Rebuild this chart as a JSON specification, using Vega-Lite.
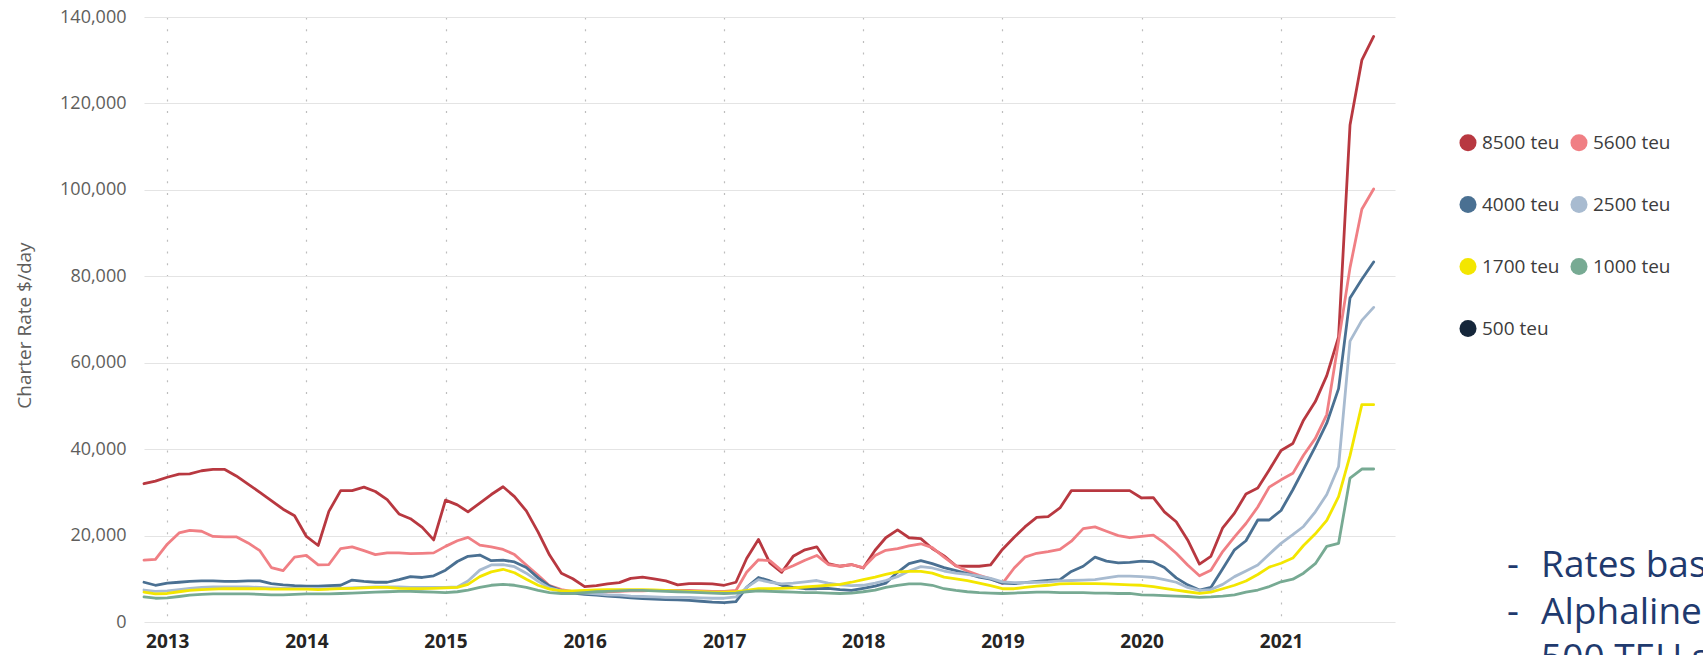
{
"$schema": "https://vega.github.io/schema/vega-lite/v6.json",
"width": 1251, "height": 605,
"autosize": {"type": "none"},
"padding": {"left": 144, "top": 17, "right": 308, "bottom": 33},
"background": "white",
"title": {"text": ["-\u2002\u200ARates based on 12-month time charters", "-\u2002\u200AAlphaliner charter rate data", "-\u2002\u200A500 TEU series discontinued"], "orient": "top", "anchor": "start", "frame": "group", "baseline": "top", "dx": 1363, "dy": 670, "font": "Open Sans", "fontSize": 37, "fontWeight": "normal", "color": "#1F3A6E", "lineHeight": 46.5, "offset": 0},
"data": {"values": [
{"t":"2012-11-01","s":"8500 teu","v":32000},{"t":"2012-12-01","s":"8500 teu","v":32600},
{"t":"2013-01-01","s":"8500 teu","v":33500},{"t":"2013-02-01","s":"8500 teu","v":34200},{"t":"2013-03-01","s":"8500 teu","v":34300},{"t":"2013-04-01","s":"8500 teu","v":35000},{"t":"2013-05-01","s":"8500 teu","v":35300},{"t":"2013-06-01","s":"8500 teu","v":35300},{"t":"2013-07-01","s":"8500 teu","v":33800},{"t":"2013-08-01","s":"8500 teu","v":31900},{"t":"2013-09-01","s":"8500 teu","v":30000},{"t":"2013-10-01","s":"8500 teu","v":28100},{"t":"2013-11-01","s":"8500 teu","v":26100},{"t":"2013-12-01","s":"8500 teu","v":24600},
{"t":"2014-01-01","s":"8500 teu","v":19800},{"t":"2014-02-01","s":"8500 teu","v":17700},{"t":"2014-03-01","s":"8500 teu","v":25600},{"t":"2014-04-01","s":"8500 teu","v":30400},{"t":"2014-05-01","s":"8500 teu","v":30400},{"t":"2014-06-01","s":"8500 teu","v":31200},{"t":"2014-07-01","s":"8500 teu","v":30200},{"t":"2014-08-01","s":"8500 teu","v":28300},{"t":"2014-09-01","s":"8500 teu","v":25000},{"t":"2014-10-01","s":"8500 teu","v":23900},{"t":"2014-11-01","s":"8500 teu","v":21900},{"t":"2014-12-01","s":"8500 teu","v":19000},
{"t":"2015-01-01","s":"8500 teu","v":28200},{"t":"2015-02-01","s":"8500 teu","v":27100},{"t":"2015-03-01","s":"8500 teu","v":25500},{"t":"2015-04-01","s":"8500 teu","v":27500},{"t":"2015-05-01","s":"8500 teu","v":29500},{"t":"2015-06-01","s":"8500 teu","v":31300},{"t":"2015-07-01","s":"8500 teu","v":29000},{"t":"2015-08-01","s":"8500 teu","v":25700},{"t":"2015-09-01","s":"8500 teu","v":20800},{"t":"2015-10-01","s":"8500 teu","v":15500},{"t":"2015-11-01","s":"8500 teu","v":11300},{"t":"2015-12-01","s":"8500 teu","v":10000},
{"t":"2016-01-01","s":"8500 teu","v":8200},{"t":"2016-02-01","s":"8500 teu","v":8400},{"t":"2016-03-01","s":"8500 teu","v":8800},{"t":"2016-04-01","s":"8500 teu","v":9100},{"t":"2016-05-01","s":"8500 teu","v":10100},{"t":"2016-06-01","s":"8500 teu","v":10400},{"t":"2016-07-01","s":"8500 teu","v":10000},{"t":"2016-08-01","s":"8500 teu","v":9500},{"t":"2016-09-01","s":"8500 teu","v":8600},{"t":"2016-10-01","s":"8500 teu","v":8900},{"t":"2016-11-01","s":"8500 teu","v":8900},{"t":"2016-12-01","s":"8500 teu","v":8800},
{"t":"2017-01-01","s":"8500 teu","v":8500},{"t":"2017-02-01","s":"8500 teu","v":9200},{"t":"2017-03-01","s":"8500 teu","v":14700},{"t":"2017-04-01","s":"8500 teu","v":19100},{"t":"2017-05-01","s":"8500 teu","v":13700},{"t":"2017-06-01","s":"8500 teu","v":11500},{"t":"2017-07-01","s":"8500 teu","v":15200},{"t":"2017-08-01","s":"8500 teu","v":16700},{"t":"2017-09-01","s":"8500 teu","v":17400},{"t":"2017-10-01","s":"8500 teu","v":13500},{"t":"2017-11-01","s":"8500 teu","v":12900},{"t":"2017-12-01","s":"8500 teu","v":13300},
{"t":"2018-01-01","s":"8500 teu","v":12500},{"t":"2018-02-01","s":"8500 teu","v":16600},{"t":"2018-03-01","s":"8500 teu","v":19500},{"t":"2018-04-01","s":"8500 teu","v":21300},{"t":"2018-05-01","s":"8500 teu","v":19500},{"t":"2018-06-01","s":"8500 teu","v":19300},{"t":"2018-07-01","s":"8500 teu","v":17000},{"t":"2018-08-01","s":"8500 teu","v":15300},{"t":"2018-09-01","s":"8500 teu","v":13000},{"t":"2018-10-01","s":"8500 teu","v":12900},{"t":"2018-11-01","s":"8500 teu","v":12900},{"t":"2018-12-01","s":"8500 teu","v":13200},
{"t":"2019-01-01","s":"8500 teu","v":16800},{"t":"2019-02-01","s":"8500 teu","v":19600},{"t":"2019-03-01","s":"8500 teu","v":22000},{"t":"2019-04-01","s":"8500 teu","v":24200},{"t":"2019-05-01","s":"8500 teu","v":24400},{"t":"2019-06-01","s":"8500 teu","v":26400},{"t":"2019-07-01","s":"8500 teu","v":30400},{"t":"2019-08-01","s":"8500 teu","v":30400},{"t":"2019-09-01","s":"8500 teu","v":30400},{"t":"2019-10-01","s":"8500 teu","v":30400},{"t":"2019-11-01","s":"8500 teu","v":30400},{"t":"2019-12-01","s":"8500 teu","v":30400},
{"t":"2020-01-01","s":"8500 teu","v":28700},{"t":"2020-02-01","s":"8500 teu","v":28800},{"t":"2020-03-01","s":"8500 teu","v":25500},{"t":"2020-04-01","s":"8500 teu","v":23200},{"t":"2020-05-01","s":"8500 teu","v":19000},{"t":"2020-06-01","s":"8500 teu","v":13400},{"t":"2020-07-01","s":"8500 teu","v":15200},{"t":"2020-08-01","s":"8500 teu","v":21800},{"t":"2020-09-01","s":"8500 teu","v":25200},{"t":"2020-10-01","s":"8500 teu","v":29600},{"t":"2020-11-01","s":"8500 teu","v":31000},{"t":"2020-12-01","s":"8500 teu","v":35200},
{"t":"2021-01-01","s":"8500 teu","v":39700},{"t":"2021-02-01","s":"8500 teu","v":41300},{"t":"2021-03-01","s":"8500 teu","v":46700},{"t":"2021-04-01","s":"8500 teu","v":51000},{"t":"2021-05-01","s":"8500 teu","v":57000},{"t":"2021-06-01","s":"8500 teu","v":66000},{"t":"2021-07-01","s":"8500 teu","v":115000},{"t":"2021-08-01","s":"8500 teu","v":130000},{"t":"2021-09-01","s":"8500 teu","v":135500},

{"t":"2012-11-01","s":"5600 teu","v":14300},{"t":"2012-12-01","s":"5600 teu","v":14500},
{"t":"2013-01-01","s":"5600 teu","v":18000},{"t":"2013-02-01","s":"5600 teu","v":20600},{"t":"2013-03-01","s":"5600 teu","v":21200},{"t":"2013-04-01","s":"5600 teu","v":21000},{"t":"2013-05-01","s":"5600 teu","v":19800},{"t":"2013-06-01","s":"5600 teu","v":19700},{"t":"2013-07-01","s":"5600 teu","v":19700},{"t":"2013-08-01","s":"5600 teu","v":18300},{"t":"2013-09-01","s":"5600 teu","v":16500},{"t":"2013-10-01","s":"5600 teu","v":12600},{"t":"2013-11-01","s":"5600 teu","v":11900},{"t":"2013-12-01","s":"5600 teu","v":15000},
{"t":"2014-01-01","s":"5600 teu","v":15400},{"t":"2014-02-01","s":"5600 teu","v":13200},{"t":"2014-03-01","s":"5600 teu","v":13300},{"t":"2014-04-01","s":"5600 teu","v":17000},{"t":"2014-05-01","s":"5600 teu","v":17400},{"t":"2014-06-01","s":"5600 teu","v":16500},{"t":"2014-07-01","s":"5600 teu","v":15600},{"t":"2014-08-01","s":"5600 teu","v":16000},{"t":"2014-09-01","s":"5600 teu","v":16000},{"t":"2014-10-01","s":"5600 teu","v":15800},{"t":"2014-11-01","s":"5600 teu","v":15900},{"t":"2014-12-01","s":"5600 teu","v":16000},
{"t":"2015-01-01","s":"5600 teu","v":17500},{"t":"2015-02-01","s":"5600 teu","v":18800},{"t":"2015-03-01","s":"5600 teu","v":19600},{"t":"2015-04-01","s":"5600 teu","v":17800},{"t":"2015-05-01","s":"5600 teu","v":17400},{"t":"2015-06-01","s":"5600 teu","v":16800},{"t":"2015-07-01","s":"5600 teu","v":15600},{"t":"2015-08-01","s":"5600 teu","v":13200},{"t":"2015-09-01","s":"5600 teu","v":10800},{"t":"2015-10-01","s":"5600 teu","v":8400},{"t":"2015-11-01","s":"5600 teu","v":7500},{"t":"2015-12-01","s":"5600 teu","v":7000},
{"t":"2016-01-01","s":"5600 teu","v":6800},{"t":"2016-02-01","s":"5600 teu","v":6900},{"t":"2016-03-01","s":"5600 teu","v":7000},{"t":"2016-04-01","s":"5600 teu","v":7100},{"t":"2016-05-01","s":"5600 teu","v":7200},{"t":"2016-06-01","s":"5600 teu","v":7200},{"t":"2016-07-01","s":"5600 teu","v":7300},{"t":"2016-08-01","s":"5600 teu","v":7300},{"t":"2016-09-01","s":"5600 teu","v":7300},{"t":"2016-10-01","s":"5600 teu","v":7300},{"t":"2016-11-01","s":"5600 teu","v":7200},{"t":"2016-12-01","s":"5600 teu","v":7100},
{"t":"2017-01-01","s":"5600 teu","v":7100},{"t":"2017-02-01","s":"5600 teu","v":7300},{"t":"2017-03-01","s":"5600 teu","v":11500},{"t":"2017-04-01","s":"5600 teu","v":14400},{"t":"2017-05-01","s":"5600 teu","v":14200},{"t":"2017-06-01","s":"5600 teu","v":11900},{"t":"2017-07-01","s":"5600 teu","v":13000},{"t":"2017-08-01","s":"5600 teu","v":14300},{"t":"2017-09-01","s":"5600 teu","v":15400},{"t":"2017-10-01","s":"5600 teu","v":13300},{"t":"2017-11-01","s":"5600 teu","v":12900},{"t":"2017-12-01","s":"5600 teu","v":13300},
{"t":"2018-01-01","s":"5600 teu","v":12600},{"t":"2018-02-01","s":"5600 teu","v":15400},{"t":"2018-03-01","s":"5600 teu","v":16600},{"t":"2018-04-01","s":"5600 teu","v":17000},{"t":"2018-05-01","s":"5600 teu","v":17600},{"t":"2018-06-01","s":"5600 teu","v":18100},{"t":"2018-07-01","s":"5600 teu","v":17200},{"t":"2018-08-01","s":"5600 teu","v":15000},{"t":"2018-09-01","s":"5600 teu","v":13000},{"t":"2018-10-01","s":"5600 teu","v":11800},{"t":"2018-11-01","s":"5600 teu","v":10800},{"t":"2018-12-01","s":"5600 teu","v":10000},
{"t":"2019-01-01","s":"5600 teu","v":8900},{"t":"2019-02-01","s":"5600 teu","v":12500},{"t":"2019-03-01","s":"5600 teu","v":15000},{"t":"2019-04-01","s":"5600 teu","v":15900},{"t":"2019-05-01","s":"5600 teu","v":16300},{"t":"2019-06-01","s":"5600 teu","v":16800},{"t":"2019-07-01","s":"5600 teu","v":18700},{"t":"2019-08-01","s":"5600 teu","v":21600},{"t":"2019-09-01","s":"5600 teu","v":22000},{"t":"2019-10-01","s":"5600 teu","v":21000},{"t":"2019-11-01","s":"5600 teu","v":20000},{"t":"2019-12-01","s":"5600 teu","v":19500},
{"t":"2020-01-01","s":"5600 teu","v":19800},{"t":"2020-02-01","s":"5600 teu","v":20100},{"t":"2020-03-01","s":"5600 teu","v":18300},{"t":"2020-04-01","s":"5600 teu","v":15900},{"t":"2020-05-01","s":"5600 teu","v":13200},{"t":"2020-06-01","s":"5600 teu","v":10700},{"t":"2020-07-01","s":"5600 teu","v":12000},{"t":"2020-08-01","s":"5600 teu","v":16300},{"t":"2020-09-01","s":"5600 teu","v":19700},{"t":"2020-10-01","s":"5600 teu","v":22800},{"t":"2020-11-01","s":"5600 teu","v":26600},{"t":"2020-12-01","s":"5600 teu","v":31200},
{"t":"2021-01-01","s":"5600 teu","v":32900},{"t":"2021-02-01","s":"5600 teu","v":34400},{"t":"2021-03-01","s":"5600 teu","v":38600},{"t":"2021-04-01","s":"5600 teu","v":42500},{"t":"2021-05-01","s":"5600 teu","v":48000},{"t":"2021-06-01","s":"5600 teu","v":65000},{"t":"2021-07-01","s":"5600 teu","v":82000},{"t":"2021-08-01","s":"5600 teu","v":95500},{"t":"2021-09-01","s":"5600 teu","v":100200},

{"t":"2012-11-01","s":"4000 teu","v":9200},{"t":"2012-12-01","s":"4000 teu","v":8500},
{"t":"2013-01-01","s":"4000 teu","v":9000},{"t":"2013-02-01","s":"4000 teu","v":9200},{"t":"2013-03-01","s":"4000 teu","v":9400},{"t":"2013-04-01","s":"4000 teu","v":9500},{"t":"2013-05-01","s":"4000 teu","v":9500},{"t":"2013-06-01","s":"4000 teu","v":9400},{"t":"2013-07-01","s":"4000 teu","v":9400},{"t":"2013-08-01","s":"4000 teu","v":9500},{"t":"2013-09-01","s":"4000 teu","v":9500},{"t":"2013-10-01","s":"4000 teu","v":8900},{"t":"2013-11-01","s":"4000 teu","v":8600},{"t":"2013-12-01","s":"4000 teu","v":8400},
{"t":"2014-01-01","s":"4000 teu","v":8300},{"t":"2014-02-01","s":"4000 teu","v":8300},{"t":"2014-03-01","s":"4000 teu","v":8400},{"t":"2014-04-01","s":"4000 teu","v":8500},{"t":"2014-05-01","s":"4000 teu","v":9700},{"t":"2014-06-01","s":"4000 teu","v":9400},{"t":"2014-07-01","s":"4000 teu","v":9200},{"t":"2014-08-01","s":"4000 teu","v":9200},{"t":"2014-09-01","s":"4000 teu","v":9800},{"t":"2014-10-01","s":"4000 teu","v":10500},{"t":"2014-11-01","s":"4000 teu","v":10300},{"t":"2014-12-01","s":"4000 teu","v":10700},
{"t":"2015-01-01","s":"4000 teu","v":12000},{"t":"2015-02-01","s":"4000 teu","v":14000},{"t":"2015-03-01","s":"4000 teu","v":15200},{"t":"2015-04-01","s":"4000 teu","v":15500},{"t":"2015-05-01","s":"4000 teu","v":14200},{"t":"2015-06-01","s":"4000 teu","v":14300},{"t":"2015-07-01","s":"4000 teu","v":13900},{"t":"2015-08-01","s":"4000 teu","v":12600},{"t":"2015-09-01","s":"4000 teu","v":10200},{"t":"2015-10-01","s":"4000 teu","v":8300},{"t":"2015-11-01","s":"4000 teu","v":7200},{"t":"2015-12-01","s":"4000 teu","v":6700},
{"t":"2016-01-01","s":"4000 teu","v":6400},{"t":"2016-02-01","s":"4000 teu","v":6200},{"t":"2016-03-01","s":"4000 teu","v":6000},{"t":"2016-04-01","s":"4000 teu","v":5800},{"t":"2016-05-01","s":"4000 teu","v":5600},{"t":"2016-06-01","s":"4000 teu","v":5400},{"t":"2016-07-01","s":"4000 teu","v":5300},{"t":"2016-08-01","s":"4000 teu","v":5200},{"t":"2016-09-01","s":"4000 teu","v":5100},{"t":"2016-10-01","s":"4000 teu","v":5000},{"t":"2016-11-01","s":"4000 teu","v":4800},{"t":"2016-12-01","s":"4000 teu","v":4600},
{"t":"2017-01-01","s":"4000 teu","v":4500},{"t":"2017-02-01","s":"4000 teu","v":4700},{"t":"2017-03-01","s":"4000 teu","v":8000},{"t":"2017-04-01","s":"4000 teu","v":10300},{"t":"2017-05-01","s":"4000 teu","v":9500},{"t":"2017-06-01","s":"4000 teu","v":8500},{"t":"2017-07-01","s":"4000 teu","v":8000},{"t":"2017-08-01","s":"4000 teu","v":7700},{"t":"2017-09-01","s":"4000 teu","v":7700},{"t":"2017-10-01","s":"4000 teu","v":7800},{"t":"2017-11-01","s":"4000 teu","v":7500},{"t":"2017-12-01","s":"4000 teu","v":7300},
{"t":"2018-01-01","s":"4000 teu","v":7800},{"t":"2018-02-01","s":"4000 teu","v":8300},{"t":"2018-03-01","s":"4000 teu","v":9000},{"t":"2018-04-01","s":"4000 teu","v":11500},{"t":"2018-05-01","s":"4000 teu","v":13500},{"t":"2018-06-01","s":"4000 teu","v":14200},{"t":"2018-07-01","s":"4000 teu","v":13500},{"t":"2018-08-01","s":"4000 teu","v":12600},{"t":"2018-09-01","s":"4000 teu","v":11900},{"t":"2018-10-01","s":"4000 teu","v":11200},{"t":"2018-11-01","s":"4000 teu","v":10400},{"t":"2018-12-01","s":"4000 teu","v":9900},
{"t":"2019-01-01","s":"4000 teu","v":9000},{"t":"2019-02-01","s":"4000 teu","v":8900},{"t":"2019-03-01","s":"4000 teu","v":9100},{"t":"2019-04-01","s":"4000 teu","v":9400},{"t":"2019-05-01","s":"4000 teu","v":9600},{"t":"2019-06-01","s":"4000 teu","v":9800},{"t":"2019-07-01","s":"4000 teu","v":11700},{"t":"2019-08-01","s":"4000 teu","v":12900},{"t":"2019-09-01","s":"4000 teu","v":15000},{"t":"2019-10-01","s":"4000 teu","v":14100},{"t":"2019-11-01","s":"4000 teu","v":13700},{"t":"2019-12-01","s":"4000 teu","v":13800},
{"t":"2020-01-01","s":"4000 teu","v":14100},{"t":"2020-02-01","s":"4000 teu","v":13900},{"t":"2020-03-01","s":"4000 teu","v":12600},{"t":"2020-04-01","s":"4000 teu","v":10200},{"t":"2020-05-01","s":"4000 teu","v":8600},{"t":"2020-06-01","s":"4000 teu","v":7400},{"t":"2020-07-01","s":"4000 teu","v":8000},{"t":"2020-08-01","s":"4000 teu","v":12300},{"t":"2020-09-01","s":"4000 teu","v":16700},{"t":"2020-10-01","s":"4000 teu","v":18800},{"t":"2020-11-01","s":"4000 teu","v":23600},{"t":"2020-12-01","s":"4000 teu","v":23600},
{"t":"2021-01-01","s":"4000 teu","v":25800},{"t":"2021-02-01","s":"4000 teu","v":30600},{"t":"2021-03-01","s":"4000 teu","v":35300},{"t":"2021-04-01","s":"4000 teu","v":40600},{"t":"2021-05-01","s":"4000 teu","v":46000},{"t":"2021-06-01","s":"4000 teu","v":54000},{"t":"2021-07-01","s":"4000 teu","v":75000},{"t":"2021-08-01","s":"4000 teu","v":79300},{"t":"2021-09-01","s":"4000 teu","v":83300},

{"t":"2012-11-01","s":"2500 teu","v":7400},{"t":"2012-12-01","s":"2500 teu","v":7100},
{"t":"2013-01-01","s":"2500 teu","v":7200},{"t":"2013-02-01","s":"2500 teu","v":7500},{"t":"2013-03-01","s":"2500 teu","v":7800},{"t":"2013-04-01","s":"2500 teu","v":8000},{"t":"2013-05-01","s":"2500 teu","v":8100},{"t":"2013-06-01","s":"2500 teu","v":8100},{"t":"2013-07-01","s":"2500 teu","v":8100},{"t":"2013-08-01","s":"2500 teu","v":8100},{"t":"2013-09-01","s":"2500 teu","v":8000},{"t":"2013-10-01","s":"2500 teu","v":7900},{"t":"2013-11-01","s":"2500 teu","v":7800},{"t":"2013-12-01","s":"2500 teu","v":7800},
{"t":"2014-01-01","s":"2500 teu","v":7800},{"t":"2014-02-01","s":"2500 teu","v":7700},{"t":"2014-03-01","s":"2500 teu","v":7700},{"t":"2014-04-01","s":"2500 teu","v":7800},{"t":"2014-05-01","s":"2500 teu","v":7900},{"t":"2014-06-01","s":"2500 teu","v":8000},{"t":"2014-07-01","s":"2500 teu","v":8100},{"t":"2014-08-01","s":"2500 teu","v":8100},{"t":"2014-09-01","s":"2500 teu","v":8100},{"t":"2014-10-01","s":"2500 teu","v":8000},{"t":"2014-11-01","s":"2500 teu","v":8000},{"t":"2014-12-01","s":"2500 teu","v":8000},
{"t":"2015-01-01","s":"2500 teu","v":8000},{"t":"2015-02-01","s":"2500 teu","v":8100},{"t":"2015-03-01","s":"2500 teu","v":9500},{"t":"2015-04-01","s":"2500 teu","v":12000},{"t":"2015-05-01","s":"2500 teu","v":13200},{"t":"2015-06-01","s":"2500 teu","v":13300},{"t":"2015-07-01","s":"2500 teu","v":12800},{"t":"2015-08-01","s":"2500 teu","v":11300},{"t":"2015-09-01","s":"2500 teu","v":9400},{"t":"2015-10-01","s":"2500 teu","v":7900},{"t":"2015-11-01","s":"2500 teu","v":7200},{"t":"2015-12-01","s":"2500 teu","v":6900},
{"t":"2016-01-01","s":"2500 teu","v":6700},{"t":"2016-02-01","s":"2500 teu","v":6500},{"t":"2016-03-01","s":"2500 teu","v":6300},{"t":"2016-04-01","s":"2500 teu","v":6200},{"t":"2016-05-01","s":"2500 teu","v":6000},{"t":"2016-06-01","s":"2500 teu","v":5900},{"t":"2016-07-01","s":"2500 teu","v":5800},{"t":"2016-08-01","s":"2500 teu","v":5700},{"t":"2016-09-01","s":"2500 teu","v":5700},{"t":"2016-10-01","s":"2500 teu","v":5700},{"t":"2016-11-01","s":"2500 teu","v":5600},{"t":"2016-12-01","s":"2500 teu","v":5500},
{"t":"2017-01-01","s":"2500 teu","v":5500},{"t":"2017-02-01","s":"2500 teu","v":5800},{"t":"2017-03-01","s":"2500 teu","v":8000},{"t":"2017-04-01","s":"2500 teu","v":9800},{"t":"2017-05-01","s":"2500 teu","v":9200},{"t":"2017-06-01","s":"2500 teu","v":8800},{"t":"2017-07-01","s":"2500 teu","v":9000},{"t":"2017-08-01","s":"2500 teu","v":9300},{"t":"2017-09-01","s":"2500 teu","v":9600},{"t":"2017-10-01","s":"2500 teu","v":9000},{"t":"2017-11-01","s":"2500 teu","v":8600},{"t":"2017-12-01","s":"2500 teu","v":8400},
{"t":"2018-01-01","s":"2500 teu","v":8500},{"t":"2018-02-01","s":"2500 teu","v":9000},{"t":"2018-03-01","s":"2500 teu","v":9600},{"t":"2018-04-01","s":"2500 teu","v":10500},{"t":"2018-05-01","s":"2500 teu","v":11800},{"t":"2018-06-01","s":"2500 teu","v":12800},{"t":"2018-07-01","s":"2500 teu","v":12500},{"t":"2018-08-01","s":"2500 teu","v":11800},{"t":"2018-09-01","s":"2500 teu","v":11300},{"t":"2018-10-01","s":"2500 teu","v":11000},{"t":"2018-11-01","s":"2500 teu","v":10600},{"t":"2018-12-01","s":"2500 teu","v":10100},
{"t":"2019-01-01","s":"2500 teu","v":9300},{"t":"2019-02-01","s":"2500 teu","v":9100},{"t":"2019-03-01","s":"2500 teu","v":9100},{"t":"2019-04-01","s":"2500 teu","v":9200},{"t":"2019-05-01","s":"2500 teu","v":9300},{"t":"2019-06-01","s":"2500 teu","v":9500},{"t":"2019-07-01","s":"2500 teu","v":9600},{"t":"2019-08-01","s":"2500 teu","v":9700},{"t":"2019-09-01","s":"2500 teu","v":9800},{"t":"2019-10-01","s":"2500 teu","v":10200},{"t":"2019-11-01","s":"2500 teu","v":10600},{"t":"2019-12-01","s":"2500 teu","v":10600},
{"t":"2020-01-01","s":"2500 teu","v":10500},{"t":"2020-02-01","s":"2500 teu","v":10300},{"t":"2020-03-01","s":"2500 teu","v":9800},{"t":"2020-04-01","s":"2500 teu","v":9200},{"t":"2020-05-01","s":"2500 teu","v":8000},{"t":"2020-06-01","s":"2500 teu","v":7300},{"t":"2020-07-01","s":"2500 teu","v":7500},{"t":"2020-08-01","s":"2500 teu","v":8700},{"t":"2020-09-01","s":"2500 teu","v":10500},{"t":"2020-10-01","s":"2500 teu","v":11800},{"t":"2020-11-01","s":"2500 teu","v":13200},{"t":"2020-12-01","s":"2500 teu","v":15700},
{"t":"2021-01-01","s":"2500 teu","v":18200},{"t":"2021-02-01","s":"2500 teu","v":20200},{"t":"2021-03-01","s":"2500 teu","v":22100},{"t":"2021-04-01","s":"2500 teu","v":25500},{"t":"2021-05-01","s":"2500 teu","v":29500},{"t":"2021-06-01","s":"2500 teu","v":36000},{"t":"2021-07-01","s":"2500 teu","v":65000},{"t":"2021-08-01","s":"2500 teu","v":69800},{"t":"2021-09-01","s":"2500 teu","v":72800},

{"t":"2012-11-01","s":"1700 teu","v":6900},{"t":"2012-12-01","s":"1700 teu","v":6500},
{"t":"2013-01-01","s":"1700 teu","v":6600},{"t":"2013-02-01","s":"1700 teu","v":7000},{"t":"2013-03-01","s":"1700 teu","v":7300},{"t":"2013-04-01","s":"1700 teu","v":7500},{"t":"2013-05-01","s":"1700 teu","v":7600},{"t":"2013-06-01","s":"1700 teu","v":7700},{"t":"2013-07-01","s":"1700 teu","v":7700},{"t":"2013-08-01","s":"1700 teu","v":7700},{"t":"2013-09-01","s":"1700 teu","v":7700},{"t":"2013-10-01","s":"1700 teu","v":7600},{"t":"2013-11-01","s":"1700 teu","v":7600},{"t":"2013-12-01","s":"1700 teu","v":7600},
{"t":"2014-01-01","s":"1700 teu","v":7600},{"t":"2014-02-01","s":"1700 teu","v":7500},{"t":"2014-03-01","s":"1700 teu","v":7600},{"t":"2014-04-01","s":"1700 teu","v":7700},{"t":"2014-05-01","s":"1700 teu","v":7800},{"t":"2014-06-01","s":"1700 teu","v":7900},{"t":"2014-07-01","s":"1700 teu","v":8000},{"t":"2014-08-01","s":"1700 teu","v":8000},{"t":"2014-09-01","s":"1700 teu","v":7800},{"t":"2014-10-01","s":"1700 teu","v":7700},{"t":"2014-11-01","s":"1700 teu","v":7700},{"t":"2014-12-01","s":"1700 teu","v":7800},
{"t":"2015-01-01","s":"1700 teu","v":7900},{"t":"2015-02-01","s":"1700 teu","v":8000},{"t":"2015-03-01","s":"1700 teu","v":8700},{"t":"2015-04-01","s":"1700 teu","v":10500},{"t":"2015-05-01","s":"1700 teu","v":11600},{"t":"2015-06-01","s":"1700 teu","v":12200},{"t":"2015-07-01","s":"1700 teu","v":11400},{"t":"2015-08-01","s":"1700 teu","v":9900},{"t":"2015-09-01","s":"1700 teu","v":8500},{"t":"2015-10-01","s":"1700 teu","v":7600},{"t":"2015-11-01","s":"1700 teu","v":7200},{"t":"2015-12-01","s":"1700 teu","v":7200},
{"t":"2016-01-01","s":"1700 teu","v":7300},{"t":"2016-02-01","s":"1700 teu","v":7400},{"t":"2016-03-01","s":"1700 teu","v":7500},{"t":"2016-04-01","s":"1700 teu","v":7500},{"t":"2016-05-01","s":"1700 teu","v":7500},{"t":"2016-06-01","s":"1700 teu","v":7500},{"t":"2016-07-01","s":"1700 teu","v":7400},{"t":"2016-08-01","s":"1700 teu","v":7300},{"t":"2016-09-01","s":"1700 teu","v":7200},{"t":"2016-10-01","s":"1700 teu","v":7100},{"t":"2016-11-01","s":"1700 teu","v":7000},{"t":"2016-12-01","s":"1700 teu","v":6900},
{"t":"2017-01-01","s":"1700 teu","v":6900},{"t":"2017-02-01","s":"1700 teu","v":7000},{"t":"2017-03-01","s":"1700 teu","v":7300},{"t":"2017-04-01","s":"1700 teu","v":7700},{"t":"2017-05-01","s":"1700 teu","v":7700},{"t":"2017-06-01","s":"1700 teu","v":7800},{"t":"2017-07-01","s":"1700 teu","v":7900},{"t":"2017-08-01","s":"1700 teu","v":8100},{"t":"2017-09-01","s":"1700 teu","v":8300},{"t":"2017-10-01","s":"1700 teu","v":8500},{"t":"2017-11-01","s":"1700 teu","v":8700},{"t":"2017-12-01","s":"1700 teu","v":9200},
{"t":"2018-01-01","s":"1700 teu","v":9800},{"t":"2018-02-01","s":"1700 teu","v":10400},{"t":"2018-03-01","s":"1700 teu","v":11000},{"t":"2018-04-01","s":"1700 teu","v":11600},{"t":"2018-05-01","s":"1700 teu","v":11700},{"t":"2018-06-01","s":"1700 teu","v":11700},{"t":"2018-07-01","s":"1700 teu","v":11300},{"t":"2018-08-01","s":"1700 teu","v":10400},{"t":"2018-09-01","s":"1700 teu","v":10000},{"t":"2018-10-01","s":"1700 teu","v":9600},{"t":"2018-11-01","s":"1700 teu","v":9000},{"t":"2018-12-01","s":"1700 teu","v":8400},
{"t":"2019-01-01","s":"1700 teu","v":7700},{"t":"2019-02-01","s":"1700 teu","v":7700},{"t":"2019-03-01","s":"1700 teu","v":8000},{"t":"2019-04-01","s":"1700 teu","v":8300},{"t":"2019-05-01","s":"1700 teu","v":8500},{"t":"2019-06-01","s":"1700 teu","v":8800},{"t":"2019-07-01","s":"1700 teu","v":8900},{"t":"2019-08-01","s":"1700 teu","v":8900},{"t":"2019-09-01","s":"1700 teu","v":8900},{"t":"2019-10-01","s":"1700 teu","v":8800},{"t":"2019-11-01","s":"1700 teu","v":8700},{"t":"2019-12-01","s":"1700 teu","v":8600},
{"t":"2020-01-01","s":"1700 teu","v":8500},{"t":"2020-02-01","s":"1700 teu","v":8200},{"t":"2020-03-01","s":"1700 teu","v":7800},{"t":"2020-04-01","s":"1700 teu","v":7400},{"t":"2020-05-01","s":"1700 teu","v":7000},{"t":"2020-06-01","s":"1700 teu","v":6600},{"t":"2020-07-01","s":"1700 teu","v":6900},{"t":"2020-08-01","s":"1700 teu","v":7700},{"t":"2020-09-01","s":"1700 teu","v":8500},{"t":"2020-10-01","s":"1700 teu","v":9500},{"t":"2020-11-01","s":"1700 teu","v":11000},{"t":"2020-12-01","s":"1700 teu","v":12700},
{"t":"2021-01-01","s":"1700 teu","v":13600},{"t":"2021-02-01","s":"1700 teu","v":14800},{"t":"2021-03-01","s":"1700 teu","v":17700},{"t":"2021-04-01","s":"1700 teu","v":20400},{"t":"2021-05-01","s":"1700 teu","v":23500},{"t":"2021-06-01","s":"1700 teu","v":29000},{"t":"2021-07-01","s":"1700 teu","v":38500},{"t":"2021-08-01","s":"1700 teu","v":50300},{"t":"2021-09-01","s":"1700 teu","v":50300},

{"t":"2012-11-01","s":"1000 teu","v":5800},{"t":"2012-12-01","s":"1000 teu","v":5500},
{"t":"2013-01-01","s":"1000 teu","v":5600},{"t":"2013-02-01","s":"1000 teu","v":5900},{"t":"2013-03-01","s":"1000 teu","v":6200},{"t":"2013-04-01","s":"1000 teu","v":6400},{"t":"2013-05-01","s":"1000 teu","v":6500},{"t":"2013-06-01","s":"1000 teu","v":6500},{"t":"2013-07-01","s":"1000 teu","v":6500},{"t":"2013-08-01","s":"1000 teu","v":6500},{"t":"2013-09-01","s":"1000 teu","v":6400},{"t":"2013-10-01","s":"1000 teu","v":6300},{"t":"2013-11-01","s":"1000 teu","v":6300},{"t":"2013-12-01","s":"1000 teu","v":6400},
{"t":"2014-01-01","s":"1000 teu","v":6500},{"t":"2014-02-01","s":"1000 teu","v":6500},{"t":"2014-03-01","s":"1000 teu","v":6500},{"t":"2014-04-01","s":"1000 teu","v":6600},{"t":"2014-05-01","s":"1000 teu","v":6700},{"t":"2014-06-01","s":"1000 teu","v":6800},{"t":"2014-07-01","s":"1000 teu","v":6900},{"t":"2014-08-01","s":"1000 teu","v":7000},{"t":"2014-09-01","s":"1000 teu","v":7100},{"t":"2014-10-01","s":"1000 teu","v":7100},{"t":"2014-11-01","s":"1000 teu","v":7000},{"t":"2014-12-01","s":"1000 teu","v":6900},
{"t":"2015-01-01","s":"1000 teu","v":6800},{"t":"2015-02-01","s":"1000 teu","v":7000},{"t":"2015-03-01","s":"1000 teu","v":7400},{"t":"2015-04-01","s":"1000 teu","v":8000},{"t":"2015-05-01","s":"1000 teu","v":8500},{"t":"2015-06-01","s":"1000 teu","v":8700},{"t":"2015-07-01","s":"1000 teu","v":8500},{"t":"2015-08-01","s":"1000 teu","v":8000},{"t":"2015-09-01","s":"1000 teu","v":7300},{"t":"2015-10-01","s":"1000 teu","v":6800},{"t":"2015-11-01","s":"1000 teu","v":6600},{"t":"2015-12-01","s":"1000 teu","v":6600},
{"t":"2016-01-01","s":"1000 teu","v":6800},{"t":"2016-02-01","s":"1000 teu","v":7000},{"t":"2016-03-01","s":"1000 teu","v":7100},{"t":"2016-04-01","s":"1000 teu","v":7200},{"t":"2016-05-01","s":"1000 teu","v":7300},{"t":"2016-06-01","s":"1000 teu","v":7300},{"t":"2016-07-01","s":"1000 teu","v":7200},{"t":"2016-08-01","s":"1000 teu","v":7100},{"t":"2016-09-01","s":"1000 teu","v":7000},{"t":"2016-10-01","s":"1000 teu","v":6900},{"t":"2016-11-01","s":"1000 teu","v":6800},{"t":"2016-12-01","s":"1000 teu","v":6700},
{"t":"2017-01-01","s":"1000 teu","v":6600},{"t":"2017-02-01","s":"1000 teu","v":6700},{"t":"2017-03-01","s":"1000 teu","v":7000},{"t":"2017-04-01","s":"1000 teu","v":7200},{"t":"2017-05-01","s":"1000 teu","v":7100},{"t":"2017-06-01","s":"1000 teu","v":7000},{"t":"2017-07-01","s":"1000 teu","v":6900},{"t":"2017-08-01","s":"1000 teu","v":6800},{"t":"2017-09-01","s":"1000 teu","v":6800},{"t":"2017-10-01","s":"1000 teu","v":6700},{"t":"2017-11-01","s":"1000 teu","v":6600},{"t":"2017-12-01","s":"1000 teu","v":6700},
{"t":"2018-01-01","s":"1000 teu","v":7000},{"t":"2018-02-01","s":"1000 teu","v":7400},{"t":"2018-03-01","s":"1000 teu","v":8000},{"t":"2018-04-01","s":"1000 teu","v":8500},{"t":"2018-05-01","s":"1000 teu","v":8800},{"t":"2018-06-01","s":"1000 teu","v":8800},{"t":"2018-07-01","s":"1000 teu","v":8500},{"t":"2018-08-01","s":"1000 teu","v":7700},{"t":"2018-09-01","s":"1000 teu","v":7300},{"t":"2018-10-01","s":"1000 teu","v":7000},{"t":"2018-11-01","s":"1000 teu","v":6800},{"t":"2018-12-01","s":"1000 teu","v":6700},
{"t":"2019-01-01","s":"1000 teu","v":6600},{"t":"2019-02-01","s":"1000 teu","v":6700},{"t":"2019-03-01","s":"1000 teu","v":6800},{"t":"2019-04-01","s":"1000 teu","v":6900},{"t":"2019-05-01","s":"1000 teu","v":6900},{"t":"2019-06-01","s":"1000 teu","v":6800},{"t":"2019-07-01","s":"1000 teu","v":6800},{"t":"2019-08-01","s":"1000 teu","v":6800},{"t":"2019-09-01","s":"1000 teu","v":6700},{"t":"2019-10-01","s":"1000 teu","v":6700},{"t":"2019-11-01","s":"1000 teu","v":6600},{"t":"2019-12-01","s":"1000 teu","v":6600},
{"t":"2020-01-01","s":"1000 teu","v":6300},{"t":"2020-02-01","s":"1000 teu","v":6200},{"t":"2020-03-01","s":"1000 teu","v":6100},{"t":"2020-04-01","s":"1000 teu","v":6000},{"t":"2020-05-01","s":"1000 teu","v":5900},{"t":"2020-06-01","s":"1000 teu","v":5700},{"t":"2020-07-01","s":"1000 teu","v":5800},{"t":"2020-08-01","s":"1000 teu","v":6000},{"t":"2020-09-01","s":"1000 teu","v":6300},{"t":"2020-10-01","s":"1000 teu","v":6900},{"t":"2020-11-01","s":"1000 teu","v":7400},{"t":"2020-12-01","s":"1000 teu","v":8200},
{"t":"2021-01-01","s":"1000 teu","v":9300},{"t":"2021-02-01","s":"1000 teu","v":9900},{"t":"2021-03-01","s":"1000 teu","v":11300},{"t":"2021-04-01","s":"1000 teu","v":13500},{"t":"2021-05-01","s":"1000 teu","v":17500},{"t":"2021-06-01","s":"1000 teu","v":18200},{"t":"2021-07-01","s":"1000 teu","v":33300},{"t":"2021-08-01","s":"1000 teu","v":35400},{"t":"2021-09-01","s":"1000 teu","v":35400}
]},
"mark": {"type": "line", "strokeWidth": 2.8, "strokeJoin": "round", "strokeCap": "round"},
"encoding": {
  "x": {"field": "t", "type": "temporal",
        "scale": {"domain": [{"year": 2012, "month": 11, "date": 1, "utc": true}, {"year": 2021, "month": 10, "date": 27, "utc": true}]},
        "axis": {"title": null, "format": "%Y", "tickCount": {"interval": "year", "step": 1}, "labelFont": "Open Sans", "labelFontSize": 19, "labelFontWeight": "bold", "labelColor": "#252423", "labelPadding": 10, "labelFlush": false, "labelOverlap": false, "domain": false, "ticks": false, "grid": true, "gridColor": "#BDBDBD", "gridDash": [2, 9.7], "gridWidth": 1.2}},
  "y": {"field": "v", "type": "quantitative",
        "scale": {"domain": [0, 140000], "nice": false},
        "axis": {"title": "Charter Rate $/day", "values": [0, 20000, 40000, 60000, 80000, 100000, 120000, 140000], "format": ",d", "labelFont": "Open Sans", "labelFontSize": 18, "labelColor": "#605E5C", "labelPadding": 18, "domain": false, "ticks": false, "grid": true, "gridColor": "#E4E4E4", "gridWidth": 1.2, "titleFont": "Open Sans", "titleFontSize": 19, "titleFontWeight": "normal", "titleColor": "#605E5C", "titleX": -120, "titleY": 308, "titleAngle": 270, "titleAlign": "center", "titleBaseline": "middle"}},
  "color": {"field": "s", "type": "nominal",
        "scale": {"domain": ["8500 teu", "5600 teu", "4000 teu", "2500 teu", "1700 teu", "1000 teu", "500 teu"], "range": ["#B83840", "#F07F84", "#4A7092", "#A8BBD0", "#F3E600", "#77AA93", "#15263A"]},
        "legend": {"title": null, "orient": "none", "direction": "horizontal", "legendX": 1314.5, "legendY": 116, "columns": 2, "symbolType": "circle", "symbolSize": 290, "symbolStrokeWidth": 0, "labelFont": "Open Sans", "labelFontSize": 19, "labelColor": "#3C3C3C", "labelOffset": 4.5, "rowPadding": 42, "columnPadding": 10, "padding": 0,
                   "encode": {"symbols": {"update": {"fill": {"scale": "color", "field": "value"}, "fillOpacity": {"value": 1}, "strokeWidth": {"value": 0}}}}}}
},
"config": {"view": {"stroke": null}, "font": "Open Sans"}
}
